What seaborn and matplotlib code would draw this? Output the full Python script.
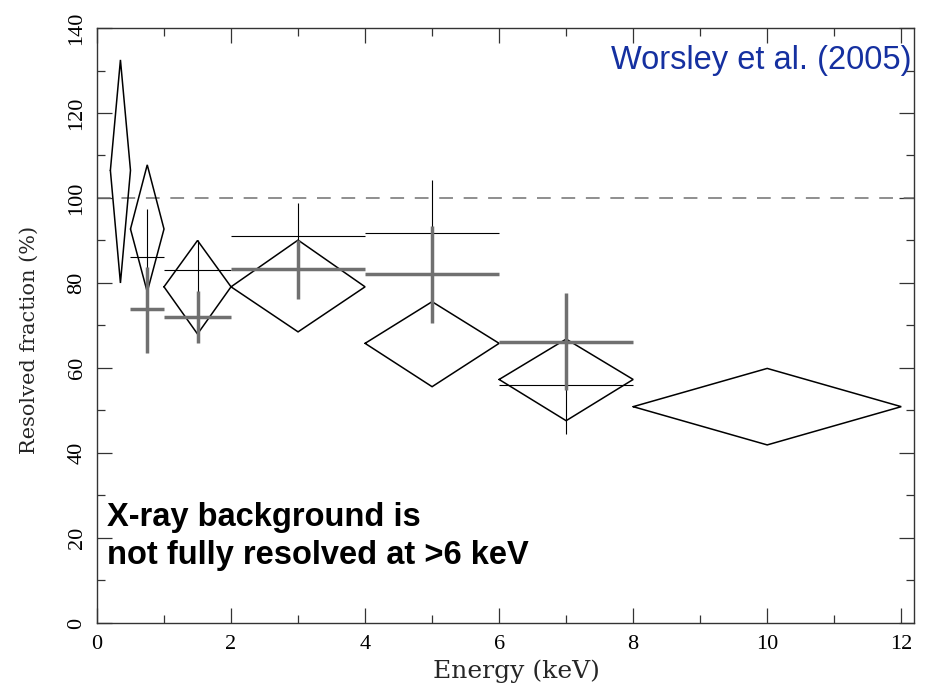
import numpy as np
import matplotlib
matplotlib.use("Agg")
import matplotlib.pyplot as plt
import seaborn as sns

# diamonds: energy band edges and fraction (centre, top, bottom)
band_lo = [0.2, 0.5, 1.0, 2.0, 4.0, 6.0, 8.0]
band_hi = [0.5, 1.0, 2.0, 4.0, 6.0, 8.0, 12.0]
dia_mid = [106.5, 92.7, 79.1, 79.1, 65.8, 57.3, 50.9]
dia_top = [132.5, 107.8, 90.0, 90.1, 75.6, 66.8, 59.9]
dia_bot = [80.0, 77.9, 68.0, 68.5, 55.6, 47.6, 41.9]

# thin black crosses
blk_x = [0.75, 1.5, 3.0, 5.0, 7.0]
blk_xerr = [0.25, 0.5, 1.0, 1.0, 1.0]
blk_y = [86.2, 83.1, 91.1, 91.7, 56.0]
blk_yerr = [11.2, 6.9, 7.7, 12.5, 11.5]

# thick grey crosses
gry_x = [0.75, 1.5, 3.0, 5.0, 7.0]
gry_xerr = [0.25, 0.5, 1.0, 1.0, 1.0]
gry_y = [73.8, 72.1, 83.2, 82.0, 66.0]
gry_ylo = [63.5, 65.9, 76.2, 70.5, 54.8]
gry_yhi = [83.8, 78.0, 90.1, 93.5, 77.6]

xticks = [0, 2, 4, 6, 8, 10, 12]
yticks = [0, 20, 40, 60, 80, 100, 120, 140]

sns.set_theme(style="ticks")
plt.rcParams["font.family"] = ["Liberation Serif", "DejaVu Serif"]

GREY = "#707070"

fig = plt.figure(figsize=(9.28, 6.88), dpi=100)
ax = fig.add_axes([0.1045, 0.0945, 0.8804, 0.8648])

for lo, hi, mid, top, bot in zip(band_lo, band_hi, dia_mid, dia_top, dia_bot):
    c = 0.5 * (lo + hi)
    ax.plot([lo, c, hi, c, lo], [mid, top, mid, bot, mid], color="black", lw=1.1,
            solid_joinstyle="miter", zorder=2)

ax.errorbar(blk_x, blk_y, xerr=blk_xerr, yerr=blk_yerr, fmt="none",
            ecolor="black", elinewidth=0.8, capsize=0, zorder=3)

gry_yerr = [np.subtract(gry_y, gry_ylo), np.subtract(gry_yhi, gry_y)]
ax.errorbar(gry_x, gry_y, xerr=gry_xerr, yerr=gry_yerr, fmt="none",
            ecolor=GREY, elinewidth=2.5, capsize=0, zorder=4)

sns.lineplot(x=[0, 12.19], y=[100, 100], color=GREY, lw=1.1, ax=ax,
             dashes=False, linestyle=(0, (9, 7)), zorder=1)

ax.set_xlim(0, 12.19)
ax.set_ylim(0, 140)
ax.set_xticks(xticks)
ax.set_yticks(yticks)
ax.set_xticks(np.arange(1, 12, 2), minor=True)
ax.set_yticks(np.arange(10, 140, 20), minor=True)
ax.tick_params(which="both", direction="in", top=True, right=True,
               color="#333333", width=0.9)
ax.tick_params(which="major", length=11, labelsize=16, labelcolor="black")
ax.tick_params(axis="x", which="major", pad=9)
ax.tick_params(axis="y", which="major", pad=7.5)
ax.tick_params(which="minor", length=5.5)
for lab in ax.get_yticklabels():
    lab.set_rotation(90)
    lab.set_va("center")
for s in ax.spines.values():
    s.set_color("#333333")
    s.set_linewidth(1.0)

ax.set_xlabel("Energy (keV)", fontsize=18, family="DejaVu Serif")
ax.set_ylabel("Resolved fraction (%)", fontsize=15, family="DejaVu Serif")
ax.xaxis.set_label_coords(0.514, -0.061)
ax.yaxis.set_label_coords(-0.071, 0.476)

ax.text(12.15, 132.3, "Worsley et al. (2005)", ha="right", va="center",
        fontsize=23.5, color="#1530A0", family="Liberation Sans")
ax.text(0.15, 28.5, "X-ray background is\nnot fully resolved at >6 keV", ha="left",
        va="top", fontsize=23.5, fontweight="bold", color="black",
        family="Liberation Sans", linespacing=1.3)

fig.savefig("out.png", dpi=100)
